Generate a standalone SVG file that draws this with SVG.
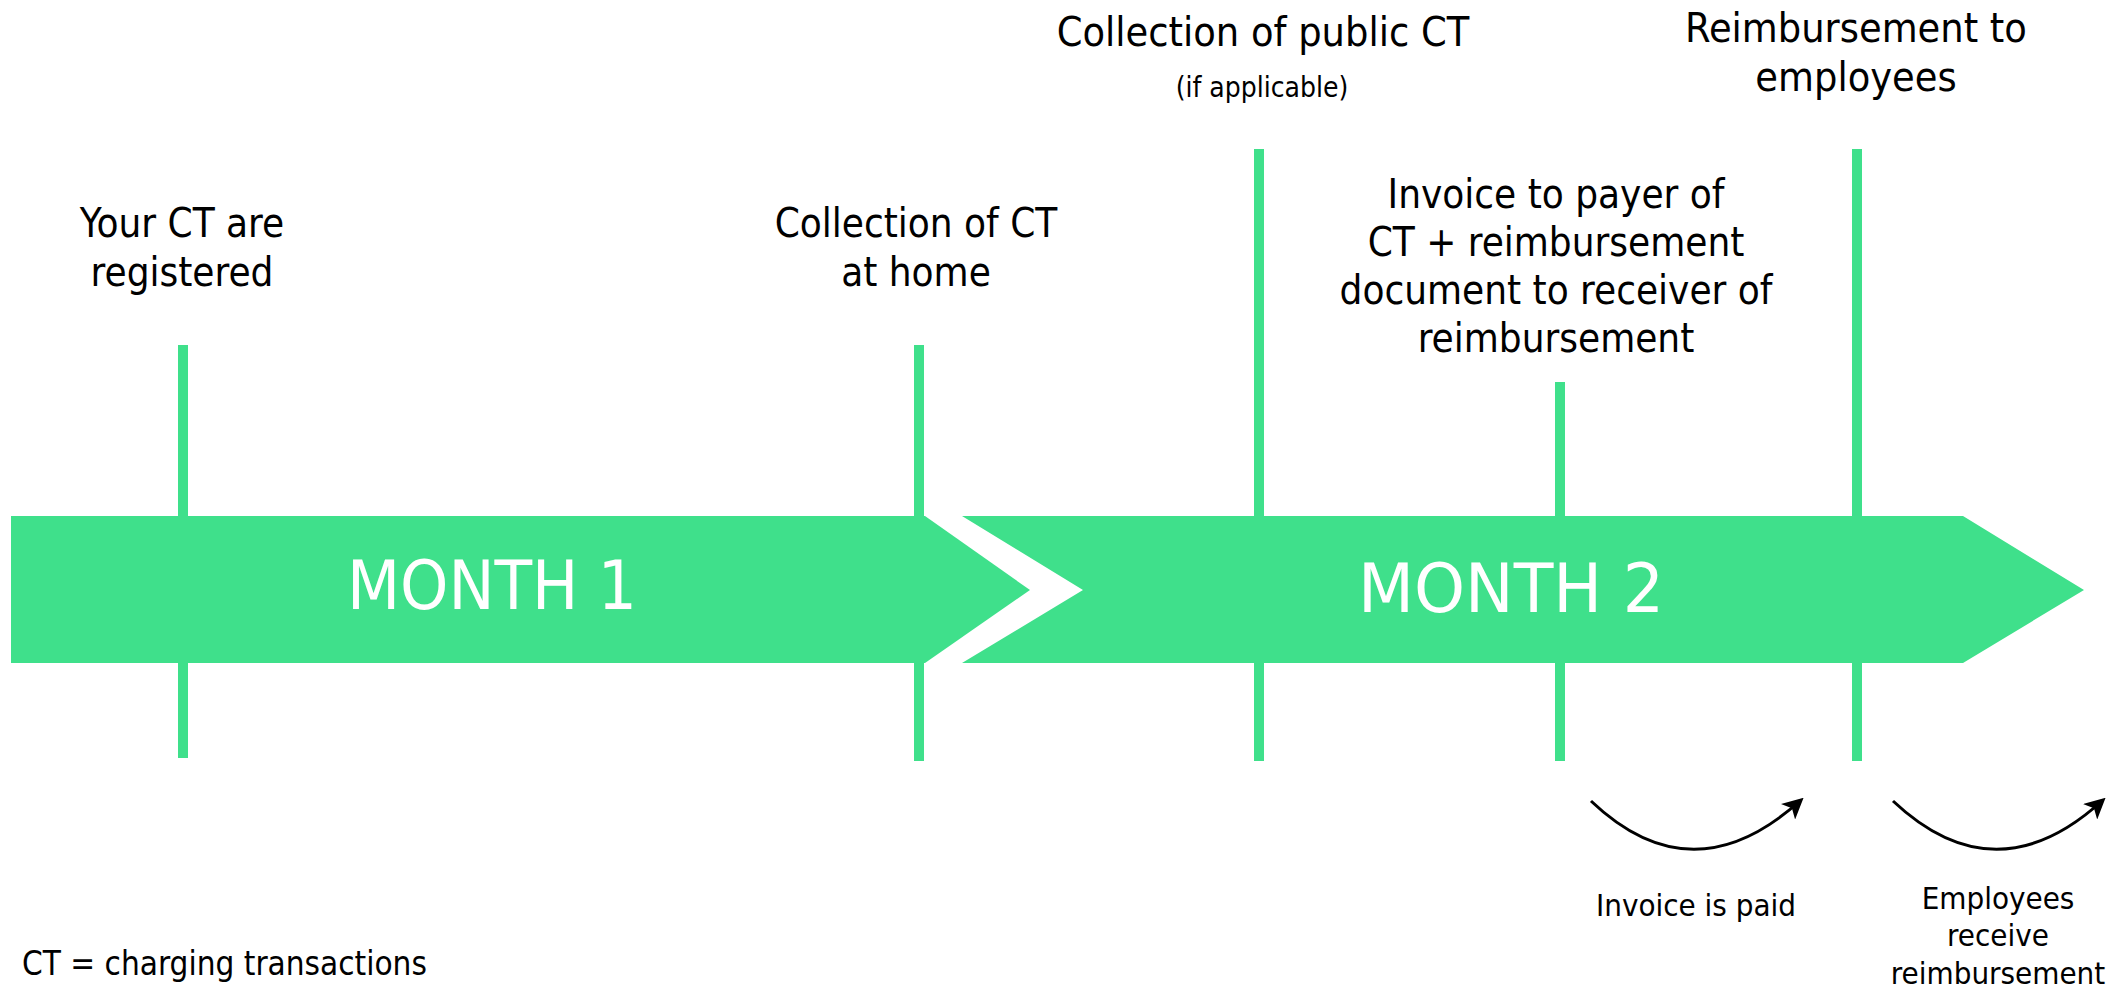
<svg xmlns="http://www.w3.org/2000/svg" width="2122" height="988" viewBox="0 0 2122 988">
<style>
.g{fill:#3fe08b;}
.tick{stroke:#3fe08b;stroke-width:10;fill:none;}
.lbl{font-family:'DejaVu Sans Condensed','DejaVu Sans',sans-serif;font-stretch:condensed;font-size:40px;fill:#000;text-anchor:middle;}
.sm{font-size:31px;}
.mon{font-family:'DejaVu Sans Condensed','DejaVu Sans',sans-serif;font-stretch:condensed;font-size:68px;fill:#fff;text-anchor:middle;font-weight:300;}
.arc{fill:none;stroke:#000;stroke-width:3;}
</style>
<defs>
<marker id="ah" viewBox="0 0 12 12" refX="10" refY="6" markerWidth="7" markerHeight="7" markerUnits="strokeWidth" orient="auto">
<path d="M0,0 L12,6 L0,12 L3,6 z" fill="#000"/>
</marker>
</defs>
<rect width="2122" height="988" fill="#fff"/>
<g id="connectors">
<line class="tick" x1="183" y1="345" x2="183" y2="758"/>
<line class="tick" x1="919" y1="345" x2="919" y2="761"/>
<line class="tick" x1="1259" y1="149" x2="1259" y2="761"/>
<line class="tick" x1="1560" y1="382" x2="1560" y2="761"/>
<line class="tick" x1="1857" y1="149" x2="1857" y2="761"/>
<path class="arc" d="M1591,801 Q1693,898 1801,800" marker-end="url(#ah)"/>
<path class="arc" d="M1893,801 Q1996,898 2103,800" marker-end="url(#ah)"/>
</g>
<g id="month1">
<polygon class="g" points="11,516 925,516 1030,590 925,663 11,663"/>
<text class="mon" x="492" y="609" textLength="290" lengthAdjust="spacingAndGlyphs">MONTH 1</text>
</g>
<g id="month2">
<polygon class="g" points="962,516 1963,516 2084,590 1963,663 962,663 1083,590"/>
<text class="mon" x="1511" y="612" textLength="306" lengthAdjust="spacingAndGlyphs">MONTH 2</text>
</g>
<g id="registered">
<text class="lbl" x="182" y="237">Your CT are</text>
<text class="lbl" x="182" y="286">registered</text>
</g>
<g id="collection-home">
<text class="lbl" x="916" y="237">Collection of CT</text>
<text class="lbl" x="916" y="286">at home</text>
</g>
<g id="collection-public">
<text class="lbl" x="1263" y="46" style="font-size:41px">Collection of public CT</text>
<text class="lbl" x="1262" y="97" style="font-size:28px">(if applicable)</text>
</g>
<g id="invoice">
<text class="lbl" x="1556" y="208">Invoice to payer of</text>
<text class="lbl" x="1556" y="256">CT + reimbursement</text>
<text class="lbl" x="1556" y="304">document to receiver of</text>
<text class="lbl" x="1556" y="352">reimbursement</text>
</g>
<g id="reimbursement">
<text class="lbl" x="1856" y="42" style="font-size:41px">Reimbursement to</text>
<text class="lbl" x="1856" y="91" style="font-size:41px">employees</text>
</g>
<g id="invoice-paid">
<text class="lbl sm" x="1696" y="916">Invoice is paid</text>
</g>
<g id="employees-receive">
<text class="lbl sm" x="1998" y="909">Employees</text>
<text class="lbl sm" x="1998" y="946">receive</text>
<text class="lbl sm" x="1998" y="984">reimbursement</text>
</g>
<g id="legend">
<text class="lbl" x="22" y="975" style="font-size:33px;text-anchor:start">CT = charging transactions</text>
</g>
</svg>
